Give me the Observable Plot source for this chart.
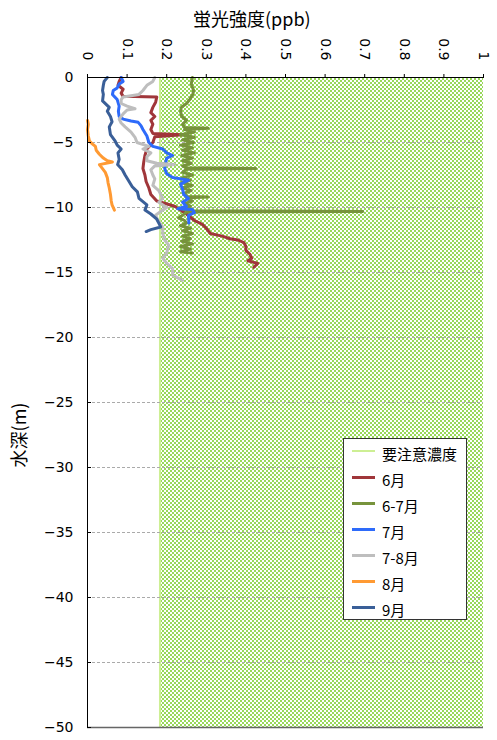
<!DOCTYPE html>
<html>
<head>
<meta charset="utf-8">
<script src="https://cdn.jsdelivr.net/npm/d3@7"></script>
<script src="https://cdn.jsdelivr.net/npm/@observablehq/plot@0.6"></script>
<style>
  body { margin: 0; background: #fff; }
  #wrap { position: relative; width: 497px; height: 740px; font-family: "DejaVu Sans", "Noto Sans CJK JP", sans-serif; color: #000; }
  #title { position: absolute; left: 193px; top: 6px; font-family: "Noto Sans CJK JP", sans-serif; font-size: 18px; line-height: 24px; white-space: nowrap; }
  #ylab { position: absolute; left: -22px; top: 423px; width: 80px; height: 24px; line-height: 24px; text-align: center; font-family: "Noto Sans CJK JP", sans-serif; font-size: 18px; transform: rotate(-90deg); white-space: nowrap; }
  #legend { position: absolute; left: 343px; top: 438px; width: 124px; height: 182px; box-sizing: border-box; border: 1px solid #333; background: #fff; }
  #legend .row { position: absolute; left: 0; width: 100%; height: 0; }
  #legend .sw { position: absolute; left: 8px; width: 23px; }
  #legend .lb { position: absolute; left: 38px; top: -7px; font-family: "Noto Sans CJK JP", sans-serif; font-size: 15px; line-height: 20px; white-space: nowrap; }
</style>
</head>
<body>
<div id="wrap">
  <div id="title">蛍光強度(ppb)</div>
  <div id="ylab">水深(m)</div>
  <div id="legend"></div>
</div>
<script>
// Fluorescence intensity (ppb) by water depth (m), one profile per survey.
// Each entry: [depth, intensity]
const june = [[0,0.085],[-0.3,0.08],[-0.6,0.077],[-0.9,0.09],[-1.2,0.085],[-1.45,0.09],[-1.5,0.175],[-1.9,0.172],[-2.3,0.165],[-2.7,0.16],[-3.0,0.17],[-3.3,0.16],[-3.6,0.165],[-4.0,0.16],[-4.3,0.165],[-4.4,0.24],[-4.55,0.17],[-5.0,0.165],[-5.5,0.15],[-6.0,0.145],[-6.5,0.142],[-7.0,0.14],[-7.5,0.145],[-8.0,0.148],[-8.5,0.155],[-9.0,0.16],[-9.5,0.175],[-9.9,0.22],[-10.2,0.235],[-10.5,0.25],[-11.0,0.27],[-11.3,0.29],[-11.6,0.3],[-12.0,0.31],[-12.2,0.34],[-12.4,0.36],[-12.5,0.38],[-12.7,0.395],[-13.0,0.4],[-13.3,0.4],[-13.6,0.41],[-13.9,0.415],[-14.1,0.405],[-14.3,0.43],[-14.6,0.42]];

const juneJuly = [[0,0.265],[-0.5,0.262],[-1.0,0.268],[-1.3,0.266],[-1.7,0.258],[-2.0,0.25],[-2.3,0.237],[-2.6,0.235],[-3.0,0.238],[-3.3,0.25],[-3.6,0.24],[-3.85,0.245],[-3.9,0.305],[-4.0,0.245],[-4.2,0.27],[-4.4,0.235],[-4.6,0.27],[-4.8,0.24],[-5.0,0.268],[-5.2,0.235],[-5.4,0.265],[-5.6,0.24],[-5.8,0.27],[-6.0,0.238],[-6.2,0.265],[-6.4,0.24],[-6.6,0.262],[-6.8,0.24],[-6.95,0.25],[-7.0,0.425],[-7.05,0.25],[-7.3,0.24],[-7.5,0.265],[-7.7,0.24],[-7.9,0.26],[-8.1,0.238],[-8.3,0.265],[-8.5,0.24],[-8.7,0.262],[-8.9,0.245],[-9.15,0.25],[-9.2,0.305],[-9.25,0.25],[-9.5,0.265],[-9.7,0.245],[-9.9,0.26],[-10.1,0.24],[-10.25,0.25],[-10.3,0.695],[-10.35,0.25],[-10.6,0.24],[-10.8,0.23],[-11.0,0.245],[-11.2,0.25],[-11.4,0.235],[-11.6,0.26],[-11.8,0.24],[-12.0,0.265],[-12.2,0.24],[-12.4,0.26],[-12.6,0.238],[-12.8,0.265],[-13.0,0.235],[-13.2,0.26],[-13.4,0.235],[-13.5,0.265]];

const july = [[0,0.085],[-0.3,0.09],[-0.5,0.08],[-0.8,0.075],[-1.0,0.065],[-1.3,0.063],[-1.7,0.075],[-2.2,0.08],[-2.6,0.078],[-3.0,0.08],[-3.2,0.09],[-3.35,0.11],[-3.45,0.128],[-3.7,0.135],[-4.0,0.14],[-4.5,0.15],[-5.0,0.155],[-5.3,0.165],[-5.5,0.19],[-5.8,0.2],[-6.0,0.215],[-6.2,0.2],[-6.6,0.197],[-7.0,0.195],[-7.4,0.2],[-7.7,0.215],[-7.9,0.255],[-8.2,0.235],[-8.6,0.24],[-9.0,0.243],[-9.3,0.255],[-9.6,0.24],[-9.9,0.25],[-10.1,0.228],[-10.15,0.265],[-10.4,0.27],[-10.6,0.255],[-11.2,0.256]];

const julyAug = [[0,0.17],[-0.3,0.165],[-0.6,0.15],[-1.0,0.14],[-1.3,0.13],[-1.5,0.09],[-1.7,0.085],[-2.0,0.085],[-2.2,0.1],[-2.4,0.12],[-2.5,0.1],[-2.8,0.09],[-3.2,0.08],[-3.5,0.085],[-3.8,0.095],[-4.2,0.11],[-4.6,0.12],[-5.0,0.125],[-5.3,0.155],[-5.5,0.14],[-5.8,0.16],[-6.1,0.15],[-6.4,0.15],[-6.6,0.175],[-6.7,0.22],[-6.8,0.17],[-7.1,0.16],[-7.5,0.165],[-7.8,0.17],[-8.3,0.165],[-8.7,0.18],[-9.3,0.19],[-9.6,0.18],[-10.0,0.2],[-10.3,0.185],[-10.6,0.172],[-11.0,0.178],[-11.5,0.19],[-12.0,0.19],[-12.5,0.195],[-12.9,0.205],[-13.5,0.2],[-13.9,0.19],[-14.3,0.2],[-14.7,0.215],[-15.2,0.215],[-15.6,0.24]];

const august = [[-3.3,0.0],[-3.6,0.002],[-4.0,0.0],[-4.5,0.002],[-4.9,0.005],[-5.1,0.012],[-5.3,0.02],[-5.6,0.022],[-5.9,0.03],[-6.2,0.04],[-6.4,0.05],[-6.5,0.063],[-6.7,0.03],[-6.9,0.035],[-7.3,0.045],[-7.7,0.05],[-8.1,0.052],[-8.5,0.055],[-9.0,0.058],[-9.5,0.06],[-9.8,0.062],[-10.2,0.068]];

const september = [[0,0.05],[-0.3,0.042],[-0.6,0.04],[-1.0,0.038],[-1.3,0.04],[-1.8,0.038],[-2.3,0.055],[-2.6,0.05],[-3.0,0.058],[-3.4,0.062],[-3.8,0.055],[-4.4,0.058],[-4.9,0.07],[-5.2,0.075],[-5.5,0.085],[-5.8,0.077],[-6.3,0.08],[-6.7,0.076],[-7.1,0.088],[-7.5,0.095],[-8.0,0.105],[-8.4,0.113],[-8.8,0.126],[-9.3,0.13],[-9.8,0.15],[-10.2,0.145],[-10.5,0.16],[-10.9,0.175],[-11.2,0.18],[-11.5,0.185],[-11.7,0.16],[-11.85,0.148]];

const seriesNames = ["6月", "6-7月", "7月", "7-8月", "8月", "9月"];
const seriesData = [june, juneJuly, july, julyAug, august, september];
const seriesColors = ["#A0363A", "#77933C", "#2E6BFA", "#BEBEBE", "#FF9A33", "#3A5F98"];

// Caution level (ppb): everything above it is shaded
const cautionName = "要注意濃度";
const cautionLevel = 0.183;
const cautionColor = "#cdef94";
const hatchColor = "#98D85A";

const xDomain = [0, 1];
const yDomain = [-50, 0];
const xTicks = [0, 0.1, 0.2, 0.3, 0.4, 0.5, 0.6, 0.7, 0.8, 0.9, 1];
const yTicks = [0, -5, -10, -15, -20, -25, -30, -35, -40, -45, -50];

const rows = seriesData.flatMap((s, i) => s.map(([depth, value]) => ({series: seriesNames[i], depth, value})));
const fmtY = d => (d < 0 ? "\u2212" + Math.abs(d) : String(d));

const chart = Plot.plot({
  width: 497,
  height: 740,
  marginTop: 77,
  marginLeft: 87,
  marginRight: 14,
  marginBottom: 13,
  style: {fontFamily: "'DejaVu Sans', 'Noto Sans CJK JP', sans-serif", fontSize: "14px", background: "transparent", color: "#000"},
  x: {domain: xDomain},
  y: {domain: yDomain},
  color: {domain: seriesNames, range: seriesColors},
  marks: [
    Plot.rect([cautionLevel], {x1: d => d, x2: () => xDomain[1], y1: () => yDomain[0], y2: () => yDomain[1], fill: "url(#caution-hatch)"}),
    Plot.ruleX([cautionLevel], {stroke: cautionColor, strokeWidth: 2}),
    Plot.gridY(yTicks.filter(d => d > yDomain[0] && d < yDomain[1]), {stroke: "#aaa", strokeOpacity: 1, strokeDasharray: "3,2"}),
    Plot.line(rows, {x: "value", y: "depth", z: "series", stroke: "series", strokeWidth: 3, strokeLinejoin: "round", curve: "linear"}),
    Plot.ruleY([yDomain[0]], {stroke: "#666", strokeWidth: 1.5}),
    Plot.ruleY([yDomain[1]], {stroke: "#000"}),
    Plot.ruleX([xDomain[0]], {stroke: "#000"}),
    Plot.axisX({anchor: "top", ticks: xTicks, tickSize: 4, tickPadding: 13, tickRotate: 90, tickFormat: d => String(d), label: null}),
    Plot.axisY({anchor: "left", ticks: yTicks, tickSize: -4, tickPadding: 18, tickFormat: fmtY, label: null})
  ]
});

// Checker hatch used for the caution region
const defs = d3.select(chart).insert("defs", ":first-child");
const pat = defs.append("pattern").attr("id", "caution-hatch").attr("patternUnits", "userSpaceOnUse").attr("width", 4).attr("height", 4);
pat.append("rect").attr("width", 4).attr("height", 4).attr("fill", "#fff");
pat.append("rect").attr("x", 0).attr("y", 0).attr("width", 2).attr("height", 2).attr("fill", hatchColor);
pat.append("rect").attr("x", 2).attr("y", 2).attr("width", 2).attr("height", 2).attr("fill", hatchColor);
pat.attr("shape-rendering", "crispEdges");

const wrap = document.getElementById("wrap");
wrap.insertBefore(chart, wrap.firstChild);
chart.style.position = "absolute";
chart.style.left = "0";
chart.style.top = "0";

// Legend
const legend = document.getElementById("legend");
const entries = [{name: cautionName, color: cautionColor, width: 1.5}]
  .concat(seriesNames.map((n, i) => ({name: n, color: seriesColors[i], width: 3})));
entries.forEach((e, i) => {
  const row = document.createElement("div");
  row.className = "row";
  row.style.top = (12 + i * 26) + "px";
  const sw = document.createElement("div");
  sw.className = "sw";
  sw.style.top = (-e.width / 2) + "px";
  sw.style.height = e.width + "px";
  sw.style.background = e.color;
  const lb = document.createElement("div");
  lb.className = "lb";
  lb.textContent = e.name;
  row.appendChild(sw);
  row.appendChild(lb);
  legend.appendChild(row);
});
</script>
</body>
</html>
